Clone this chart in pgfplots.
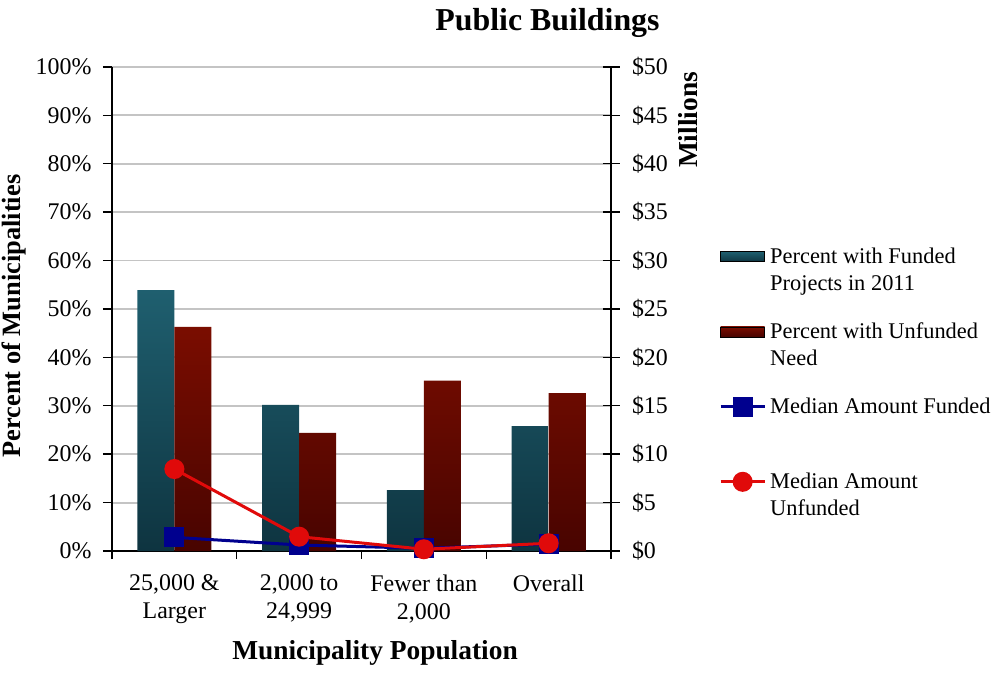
\documentclass[border=0pt]{standalone}
\usepackage{pgfplots}
\pgfplotsset{compat=1.18}
\usepackage{fontspec}
\setmainfont{Liberation Serif}

\definecolor{tealtop}{HTML}{1F5F6F}
\definecolor{tealbot}{HTML}{0E3440}
\definecolor{redtop}{HTML}{7A0D00}
\definecolor{redbot}{HTML}{480400}
\definecolor{medblue}{HTML}{00008E}
\definecolor{medred}{HTML}{E00A0A}
\definecolor{gridgray}{HTML}{C4C4C4}

\newcommand{\tickfont}{\fontsize{24}{28.5}\selectfont}
\newcommand{\labfont}{\fontsize{27.5}{32}\selectfont\bfseries}

\pgfplotsset{
    lineleg/.style={legend image code/.code={\draw[mark repeat=2,mark phase=2,##1] plot coordinates {(0bp,13.5bp)(22bp,13.5bp)(44bp,13.5bp)};}},
}

\begin{document}
\begin{tikzpicture}
\path[use as bounding box] (-112bp,-123bp) rectangle (886bp,551bp);

% bars on the left axis
\begin{axis}[
    at={(0,0)}, anchor=south west,
    scale only axis, width=499bp, height=484bp,
    xmin=-0.5, xmax=3.5,
    ymin=0, ymax=100,
    axis x line*=bottom, axis y line*=left,
    axis line style={black, line width=1.6bp, -},
    ytick={0,10,...,100},
    yticklabel={\pgfmathprintnumber{\tick}\%},
    xtick={0,1,2,3},
    xticklabels={{25,000 \&\\Larger},{2,000 to\\24,999},{Fewer than\\2,000},{Overall}},
    minor xtick={-0.5,0.5,1.5,2.5,3.5},
    major x tick style={draw=none},
    minor x tick style={black, line width=1.4bp},
    major y tick style={black, line width=1.4bp},
    tick align=outside,
    major tick length=9bp, minor tick length=8bp,
    ymajorgrids, grid style={gridgray, line width=1.8bp},
    /pgf/number format/assume math mode=true,
    ticklabel style={font=\tickfont},
    xticklabel style={align=center, anchor=north, yshift=-11bp},
    yticklabel style={xshift=-8bp},
    ybar=0pt, bar width=37bp,
]
\addplot[draw=none, top color=tealtop, bottom color=tealbot]
    coordinates {(0,53.9)(1,30.2)(2,12.6)(3,25.8)};
\addplot[draw=none, top color=redtop, bottom color=redbot]
    coordinates {(0,46.3)(1,24.4)(2,35.2)(3,32.6)};
\end{axis}

% median amounts on the right axis (millions of dollars)
\begin{axis}[
    at={(0,0)}, anchor=south west,
    scale only axis, width=499bp, height=484bp,
    xmin=-0.5, xmax=3.5,
    ymin=0, ymax=50,
    axis x line=none, axis y line*=right,
    axis line style={black, line width=1.6bp, -},
    xtick=\empty,
    ytick={0,5,...,50},
    yticklabel={\$\pgfmathprintnumber{\tick}},
    tick align=center, major tick length=17bp,
    major y tick style={black, line width=1.4bp},
    /pgf/number format/assume math mode=true,
    ticklabel style={font=\tickfont},
    yticklabel style={xshift=9bp},
    clip=false,
    legend style={draw=none, fill=none, inner sep=0pt,
        at={(1.2164,0.626)}, anchor=north west,
        row sep=31bp, column sep=4bp,
        nodes={inner sep=0pt, align=left, font=\fontsize{22.5}{27}\selectfont}},
    legend cell align=left,
]
\addlegendimage{legend image code/.code={\path[top color=tealtop, bottom color=tealbot] (0bp,8.5bp) rectangle (44bp,18.5bp);}}
\addlegendentry{Percent with Funded\\Projects in 2011}
\addlegendimage{legend image code/.code={\path[top color=redtop, bottom color=redbot] (0bp,8.5bp) rectangle (44bp,18.5bp);}}
\addlegendentry{Percent with Unfunded\\Need}
\addplot[medblue, line width=3bp, mark=square*, mark size=8.5bp, lineleg]
    coordinates {(0,1.41)(1,0.62)(2,0.28)(3,0.72)};
\addlegendentry{Median Amount Funded\\\strut}
\addplot[medred, line width=3bp, mark=*, mark size=8.5bp, lineleg]
    coordinates {(0,8.47)(1,1.48)(2,0.18)(3,0.80)};
\addlegendentry{Median Amount\\Unfunded}
\end{axis}

\node[font=\fontsize{32}{36}\selectfont\bfseries, anchor=base] at (435.5bp,520bp) {Public Buildings};
\node[font=\labfont, anchor=base] at (263bp,-108bp) {Municipality Population};
\node[font=\fontsize{26.5}{30}\selectfont\bfseries, anchor=base, rotate=90] at (-91bp,235bp) {Percent of Municipalities};
\node[font=\labfont, anchor=base, rotate=90] at (585bp,431bp) {Millions};
\end{tikzpicture}
\end{document}
